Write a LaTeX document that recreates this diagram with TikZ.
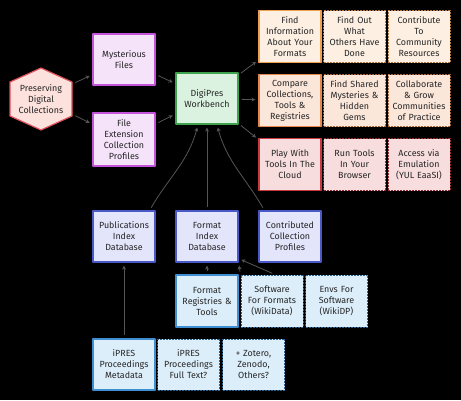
\documentclass[tikz,border=0pt]{standalone}
\usepackage{fontspec}
\setmainfont{Fira Sans}
\usetikzlibrary{arrows.meta,positioning}

\definecolor{hexfill}{HTML}{FCE1DC}
\definecolor{hexline}{HTML}{E0505A}
\definecolor{purfill}{HTML}{F5E3FA}
\definecolor{purline}{HTML}{C455DA}
\definecolor{grnfill}{HTML}{DAF2DF}
\definecolor{grnline}{HTML}{3FA34D}
\definecolor{orafill}{HTML}{FDF0E2}
\definecolor{oraline}{HTML}{F0A050}
\definecolor{cmpfill}{HTML}{FBE6DA}
\definecolor{cmpline}{HTML}{E5884A}
\definecolor{redfill}{HTML}{F7DDDD}
\definecolor{redline}{HTML}{C83A40}
\definecolor{dbfill}{HTML}{E3E5FB}
\definecolor{dbline}{HTML}{4A58C8}
\definecolor{srcfill}{HTML}{DCEEFA}
\definecolor{srcline}{HTML}{3F8ED0}
\definecolor{arrgray}{HTML}{555555}

\tikzset{
  box/.style={draw, line width=1.2pt, minimum width=62pt, minimum height=52pt,
    text width=60pt, align=center, inner sep=1pt, text=black!85,
    font=\fontsize{8.9}{11}\selectfont},
  later/.style={dash pattern=on 2pt off 1pt, line width=1pt},
  arr/.style={draw=arrgray, line width=0.8pt, -{Stealth[length=4pt,width=4pt]},
    shorten >=3pt, shorten <=3pt},
}

\begin{document}
\begin{tikzpicture}[x=1pt,y=-1pt,line join=round]
  \fill[black] (0,0) rectangle (461,400);
  \useasboundingbox (0,0) rectangle (461,400);

  % starting point
  \filldraw[fill=hexfill,draw=hexline,line width=1.2pt]
    (41,68)--(72,82)--(72,116)--(41,130)--(10,116)--(10,82)--cycle;
  \node[box,draw=none,minimum width=62pt,minimum height=62pt] (pres) at (41,99) {Preserving\\Digital\\Collections};

  % inputs
  \node[box,fill=purfill,draw=purline,minimum height=51pt] (myst) at (124,59.5) {Mysterious\\Files};
  \node[box,fill=purfill,draw=purline,minimum height=53pt] (fext) at (124,139.5) {File\\Extension\\Collection\\Profiles};
  \node[box,fill=grnfill,draw=grnline,minimum height=51pt] (wb) at (207,98.5) {DigiPres\\Workbench};

  % what you can do
  \node[box,fill=orafill,draw=oraline] (info) at (290,36.5) {Find\\Information\\About Your\\Formats};
  \node[box,fill=orafill,draw=oraline!75!black,later] (others) at (354.5,36.5) {Find Out\\What\\Others Have\\Done};
  \node[box,fill=orafill,draw=oraline!75!black,later] (contrib) at (419,36.5) {Contribute\\To\\Community\\Resources};
  \node[box,fill=cmpfill,draw=cmpline] (compare) at (290,100.5) {Compare\\Collections,\\Tools \&\\Registries};
  \node[box,fill=cmpfill,draw=cmpline!75!black,later] (gems) at (354.5,100.5) {Find Shared\\Mysteries \&\\Hidden\\Gems};
  \node[box,fill=cmpfill,draw=cmpline!75!black,later] (collab) at (419,100.5) {Collaborate\\\& Grow\\Communities\\of Practice};
  \node[box,fill=redfill,draw=redline] (cloud) at (290,164.5) {Play With\\Tools In The\\Cloud};
  \node[box,fill=redfill,draw=redline!75!black,later] (browser) at (354.5,164.5) {Run Tools\\In Your\\Browser};
  \node[box,fill=redfill,draw=redline!75!black,later] (emu) at (419,164.5) {Access via\\Emulation\\(YUL EaaSI)};

  % databases
  \node[box,fill=dbfill,draw=dbline,minimum height=51pt] (pubdb) at (124,236.5) {Publications\\Index\\Database};
  \node[box,fill=dbfill,draw=dbline,minimum height=51pt] (fmtdb) at (207,236.5) {Format\\Index\\Database};
  \node[box,fill=dbfill,draw=dbline,minimum height=51pt] (ccp) at (290,236.5) {Contributed\\Collection\\Profiles};

  % sources
  \node[box,fill=srcfill,draw=srcline] (fmtreg) at (207,301) {Format\\Registries \&\\Tools};
  \node[box,fill=srcfill,draw=srcline!70!black,later] (swf) at (272,301) {Software\\For Formats\\(WikiData)};
  \node[box,fill=srcfill,draw=srcline!70!black,later] (envs) at (336.5,301) {Envs For\\Software\\(WikiDP)};
  \node[box,fill=srcfill,draw=srcline,minimum height=51pt] (iprm) at (124,364.5) {iPRES\\Proceedings\\Metadata};
  \node[box,fill=srcfill,draw=srcline!70!black,later,minimum height=51pt] (iprf) at (188.5,364.5) {iPRES\\Proceedings\\Full Text?};
  \node[box,fill=srcfill,draw=srcline!70!black,later,minimum height=51pt] (zot) at (253.5,364.5) {+ Zotero,\\Zenodo,\\Others?};

  % connectors
  \draw[arr] (pres) -- (myst);
  \draw[arr] (pres) -- (fext);
  \draw[arr] (myst) -- (wb);
  \draw[arr] (fext) -- (wb);
  \draw[arr] (wb) -- (info);
  \draw[arr] (wb) -- (compare);
  \draw[arr] (wb) -- (cloud);
  \draw[arr] ([xshift=-6pt]pubdb.north east) to[out=60,in=-105] ([xshift=-9pt]wb.south);
  \draw[arr] (fmtdb.north) -- (wb.south);
  \draw[arr] ([xshift=6pt]ccp.north west) to[out=120,in=-75] ([xshift=10pt]wb.south);
  \draw[arr] (fmtreg.north) -- (fmtdb.south);
  \draw[arr] (swf.north west) -- (fmtdb.south east);
  \draw[arr] ([xshift=3pt]swf.north) -- ([yshift=4pt]fmtdb.south east);
  \draw[arr] (iprm.north) -- (pubdb.south);
\end{tikzpicture}
\end{document}
